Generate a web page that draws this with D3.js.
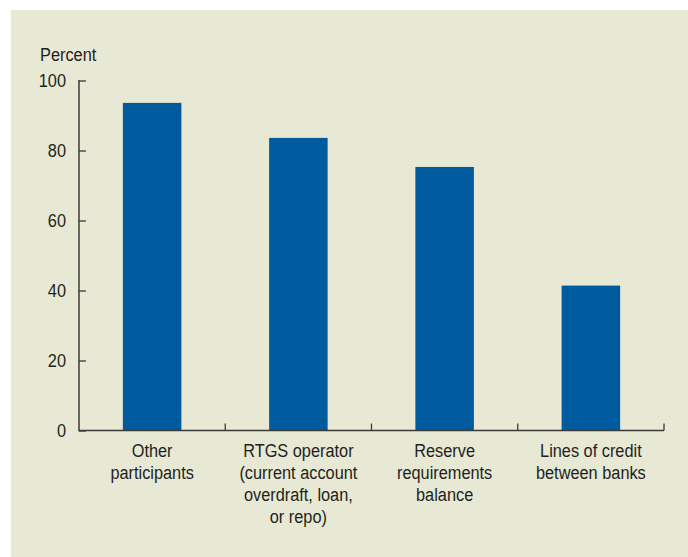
<!DOCTYPE html>
<html>
<head>
<meta charset="utf-8">
<script src="https://cdn.jsdelivr.net/npm/d3@7"></script>
<style>
  html, body { margin: 0; padding: 0; background: #ffffff; }
  svg { display: block; }
  text { font-family: "Liberation Sans", Arial, sans-serif; fill: #231f20; }
</style>
</head>
<body>
<script>
const categories = [
  ["Other", "participants"],
  ["RTGS operator", "(current account", "overdraft, loan,", "or repo)"],
  ["Reserve", "requirements", "balance"],
  ["Lines of credit", "between banks"]
];
const values = [93.6, 83.6, 75.3, 41.4];
const yTicks = [0, 20, 40, 60, 80, 100];
const yLabel = "Percent";

(function () {
const W = 688, H = 557;
const FS = 19, SX = 0.86; // font size, horizontal condensing
const svg = d3.select("body").append("svg").attr("width", W).attr("height", H);

svg.append("rect").attr("x", 11).attr("y", 10).attr("width", W - 11).attr("height", H - 10).attr("fill", "#e7e9d4");

const mLeft = 79, mRight = 664, mTop = 80.5, mBottom = 430.5;
const x = d3.scaleBand().domain(d3.range(categories.length)).range([mLeft, mRight]).paddingInner(0.6).paddingOuter(0.3);
const xb = d3.scaleBand().domain(d3.range(categories.length)).range([mLeft, mRight]);
const y = d3.scaleLinear().domain([0, 100]).range([mBottom, mTop]);

// bars
svg.append("g").selectAll("rect").data(values).join("rect")
  .attr("x", (d, i) => x(i))
  .attr("y", d => y(d))
  .attr("width", x.bandwidth())
  .attr("height", d => y(0) - y(d))
  .attr("fill", "#005a9e");

const axisColor = "#3a3a3a";
// y axis
const yAxis = svg.append("g").attr("transform", `translate(${mLeft},0)`)
  .call(d3.axisRight(y).tickValues(yTicks).tickSize(7).tickFormat(""));
yAxis.select(".domain").remove();
yAxis.selectAll("line").attr("stroke", axisColor).attr("stroke-width", 1.3);
svg.append("line").attr("x1", mLeft).attr("x2", mLeft).attr("y1", mTop - 0.6).attr("y2", mBottom + 0.8)
  .attr("stroke", axisColor).attr("stroke-width", 1.5);

// y tick labels
svg.append("g").selectAll("text").data(yTicks).join("text")
  .attr("transform", d => `translate(66,${y(d)}) scale(${SX},1)`)
  .attr("dy", "0.36em")
  .attr("text-anchor", "end").attr("font-size", FS).text(d => d);

svg.append("text").attr("transform", `translate(40,61) scale(${SX},1)`).attr("font-size", FS).text(yLabel);

// x axis
svg.append("line").attr("x1", mLeft).attr("x2", mRight).attr("y1", mBottom).attr("y2", mBottom)
  .attr("stroke", axisColor).attr("stroke-width", 1.5);
const boundaries = d3.range(1, categories.length + 1).map(i => i < categories.length ? xb(i) : mRight);
svg.append("g").selectAll("line").data(boundaries).join("line")
  .attr("x1", d => d).attr("x2", d => d).attr("y1", mBottom).attr("y2", mBottom - 7)
  .attr("stroke", axisColor).attr("stroke-width", 1.3);

// category labels
const lab = svg.append("g").selectAll("text").data(categories).join("text")
  .attr("text-anchor", "middle").attr("font-size", FS)
  .attr("transform", (d, i) => `translate(${xb(i) + xb.bandwidth() / 2},${457}) scale(${SX},1)`);
lab.selectAll("tspan").data(d => d).join("tspan")
  .attr("x", 0).attr("y", (d, j) => j * 22).text(d => d);
})();
</script>
</body>
</html>
